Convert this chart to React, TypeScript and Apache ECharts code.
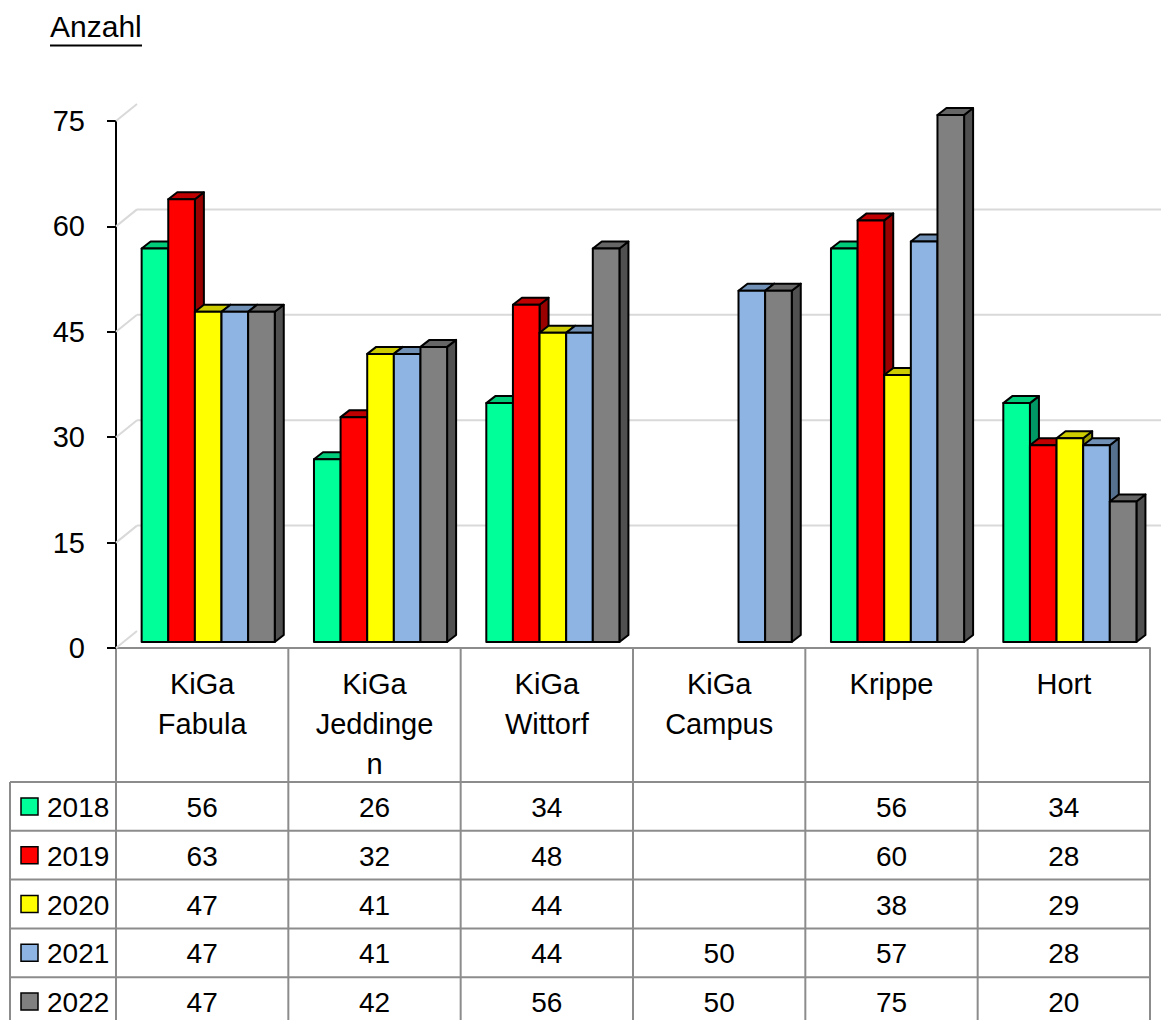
import React, { useEffect, useRef } from "react";
import * as echarts from "echarts";

const categories = ["KiGa\nFabula", "KiGa\nJeddinge\nn", "KiGa\nWittorf", "KiGa\nCampus", "Krippe", "Hort"];
const years = ["2018", "2019", "2020", "2021", "2022"];
const v2018 = [56, 26, 34, null, 56, 34];
const v2019 = [63, 32, 48, null, 60, 28];
const v2020 = [47, 41, 44, null, 38, 29];
const v2021 = [47, 41, 44, 50, 57, 28];
const v2022 = [47, 42, 56, 50, 75, 20];
const seriesValues = [v2018, v2019, v2020, v2021, v2022];
const yTicks = [0, 15, 30, 45, 60, 75];
const frontColors = ["#00FF99", "#FF0000", "#FFFF00", "#8DB4E2", "#808080"];
const topColors = ["#00CC7A", "#C00000", "#CCCC00", "#7090B5", "#666666"];
const sideColors = ["#009966", "#990000", "#999900", "#56708F", "#505050"];

const FONT = "'Liberation Sans', Arial, sans-serif";
const W = 1161;
const H = 1020;
const GRID_L = 116;
const GRID_R_X = 1150;
const GRID_T = 121;
const GRID_B_Y = 648;
const CAT_W = (GRID_R_X - GRID_L) / categories.length;
const ROW_TOP = 782;
const ROW_H = 48.8;
const TABLE_L = 10;
const GRAY = "#8C8C8C";

function barRender(s: number) {
  return (params: any, api: any) => {
    const ci = api.value(0);
    const v = api.value(1);
    const base = api.coord([ci, 0]);
    const top = api.coord([ci, v]);
    const catW = api.size([1, 0])[0];
    const w = catW * 0.1545;
    const dx = 9;
    const dy = -7;
    const x0 = base[0] - 2.5 * w + catW * 0.035 + s * w;
    const x1 = x0 + w;
    const yb = base[1] - 6;
    const yt = top[1] - 6;
    const st = { stroke: "#000", lineWidth: 2, lineJoin: "round" };
    return {
      type: "group",
      children: [
        { type: "polygon", shape: { points: [[x1, yt], [x1 + dx, yt + dy], [x1 + dx, yb + dy], [x1, yb]] }, style: { ...st, fill: sideColors[s] } },
        { type: "polygon", shape: { points: [[x0, yt], [x0 + dx, yt + dy], [x1 + dx, yt + dy], [x1, yt]] }, style: { ...st, fill: topColors[s] } },
        { type: "rect", shape: { x: x0, y: yt, width: w, height: yb - yt }, style: { ...st, fill: frontColors[s] } },
      ],
    };
  };
}

function gridRender(params: any, api: any) {
  const t = api.value(1);
  const cs = params.coordSys;
  const y = api.coord([0, t])[1];
  const x = cs.x;
  const st = { stroke: "#D9D9D9", lineWidth: 2 };
  const children: any[] = [
    { type: "line", shape: { x1: x, y1: y, x2: x + 21, y2: y - 17 }, style: st },
  ];
  if (t !== 0 && t !== 75) {
    children.push({ type: "line", shape: { x1: x + 21, y1: y - 17, x2: W, y2: y - 17 }, style: st });
  }
  return { type: "group", children };
}

export default function App() {
  const ref = useRef<HTMLDivElement>(null);
  useEffect(() => {
    if (!ref.current) return;
    const chart = echarts.init(ref.current, null, { renderer: "svg" });
    const graphics: any[] = [];
    graphics.push({ type: "text", left: 50, top: 11, style: { text: "Anzahl", font: `30px ${FONT}`, fill: "#000" } });
    graphics.push({ type: "line", shape: { x1: 50, y1: 45.5, x2: 142, y2: 45.5 }, style: { stroke: "#000", lineWidth: 2 } });
    for (let k = 0; k <= categories.length; k++) {
      const x = GRID_L + k * CAT_W;
      graphics.push({ type: "line", shape: { x1: x, y1: GRID_B_Y, x2: x, y2: H + 10 }, style: { stroke: GRAY, lineWidth: 2 } });
    }
    graphics.push({ type: "line", shape: { x1: TABLE_L, y1: ROW_TOP, x2: TABLE_L, y2: H + 10 }, style: { stroke: GRAY, lineWidth: 2 } });
    for (let r = 0; r <= years.length; r++) {
      const y = ROW_TOP + r * ROW_H;
      graphics.push({ type: "line", shape: { x1: TABLE_L, y1: y, x2: GRID_R_X, y2: y }, style: { stroke: GRAY, lineWidth: 2 } });
    }
    years.forEach((yr, r) => {
      const cy = ROW_TOP + (r + 0.5) * ROW_H + 1;
      graphics.push({ type: "rect", shape: { x: 21, y: cy - 9.5, width: 17, height: 17 }, style: { fill: frontColors[r], stroke: "#000", lineWidth: 1.5 } });
      graphics.push({ type: "text", x: 47, y: cy, style: { text: yr, font: `28px ${FONT}`, fill: "#000", textVerticalAlign: "middle", textAlign: "left" } });
      seriesValues[r].forEach((v, i) => {
        if (v == null) return;
        graphics.push({ type: "text", x: GRID_L + (i + 0.5) * CAT_W, y: cy, style: { text: String(v), font: `28px ${FONT}`, fill: "#000", textVerticalAlign: "middle", textAlign: "center" } });
      });
    });

    const series: any[] = [
      {
        type: "custom",
        renderItem: gridRender,
        data: yTicks.map((t) => [0, t]),
        encode: { x: 0, y: 1 },
        z: 1,
        silent: true,
      },
    ];
    seriesValues.forEach((vals, s) => {
      series.push({
        type: "custom",
        name: years[s],
        renderItem: barRender(s),
        data: vals.map((v, i) => [i, v]).filter((d) => d[1] != null),
        encode: { x: 0, y: 1 },
        z: 2 + s,
      });
    });

    chart.setOption({
      animation: false,
      backgroundColor: "#fff",
      textStyle: { fontFamily: FONT },
      grid: { left: GRID_L, right: W - GRID_R_X, top: GRID_T, bottom: H - GRID_B_Y, containLabel: false },
      xAxis: {
        type: "category",
        data: categories,
        axisLine: { show: true, lineStyle: { color: GRAY, width: 2 } },
        axisTick: { show: false },
        splitLine: { show: false },
        axisLabel: { color: "#000", fontSize: 29, lineHeight: 40, margin: 16, verticalAlign: "top", align: "center", fontFamily: FONT, interval: 0 },
      },
      yAxis: {
        type: "value",
        min: 0,
        max: 75,
        interval: 15,
        axisLine: { show: true, lineStyle: { color: "#000", width: 2 } },
        axisTick: { show: true, length: 9, lineStyle: { color: "#000", width: 2 } },
        splitLine: { show: false },
        axisLabel: { color: "#000", fontSize: 29, margin: 31, fontFamily: FONT },
      },
      series,
      graphic: graphics,
    });
    return () => chart.dispose();
  }, []);
  return <div ref={ref} style={{ position: "fixed", left: 0, top: 0, width: W, height: H }} />;
}
